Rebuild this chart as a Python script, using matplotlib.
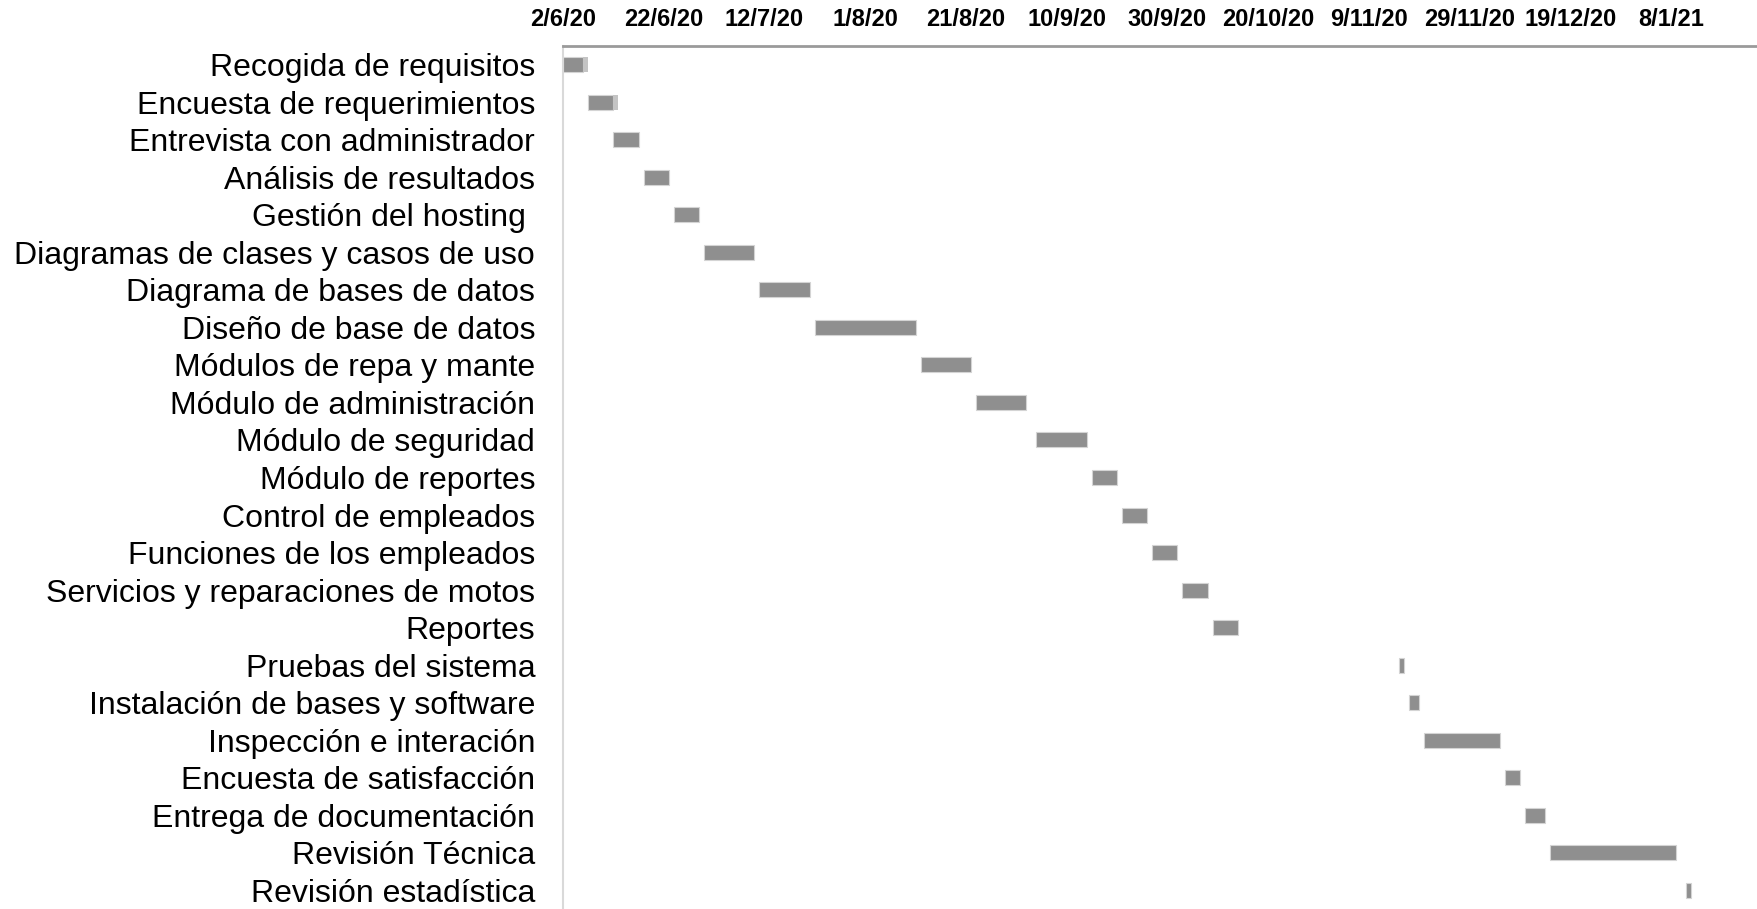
import matplotlib.pyplot as plt
import matplotlib.dates as mdates
import pandas as pd

# tareas del proyecto (de arriba hacia abajo)
tareas = ['Recogida de requisitos', 'Encuesta de requerimientos', 'Entrevista con administrador',
          'Análisis de resultados', 'Gestión del hosting ', 'Diagramas de clases y casos de uso',
          'Diagrama de bases de datos', 'Diseño de base de datos', 'Módulos de repa y mante',
          'Módulo de administración', 'Módulo de seguridad', 'Módulo de reportes',
          'Control de empleados', 'Funciones de los empleados', 'Servicios y reparaciones de motos',
          'Reportes', 'Pruebas del sistema', 'Instalación de bases y software',
          'Inspección e interación', 'Encuesta de satisfacción', 'Entrega de documentación',
          'Revisión Técnica', 'Revisión estadística']
inicio = ['2020-06-02', '2020-06-07', '2020-06-12', '2020-06-18', '2020-06-24', '2020-06-30',
          '2020-07-11', '2020-07-22', '2020-08-12', '2020-08-23', '2020-09-04', '2020-09-15',
          '2020-09-21', '2020-09-27', '2020-10-03', '2020-10-09', '2020-11-15', '2020-11-17',
          '2020-11-20', '2020-12-06', '2020-12-10', '2020-12-15', '2021-01-11']
duracion = [4, 5, 5, 5, 5, 10, 10, 20, 10, 10, 10, 5, 5, 5, 5, 5, 1, 2, 15, 3, 4, 25, 1]
# pequeño tramo claro al final de las dos primeras barras
extra = [0.9, 0.9, 0, 0, 0, 0, 0, 0, 0, 0, 0, 0, 0, 0, 0, 0, 0, 0, 0, 0, 0, 0, 0]

eje_inicio = '2020-06-02'
paso_dias = 20
n_ticks = 12

plt.rcParams['font.family'] = ['Liberation Sans', 'DejaVu Sans']

fig = plt.figure(figsize=(17.58, 9.09), dpi=100)
ax = fig.add_axes([563 / 1758, 0, (1758 - 563) / 1758, 863 / 909])

ini = mdates.date2num(pd.to_datetime(inicio))
y = list(range(len(tareas)))
ax.barh(y, duracion, left=ini, height=0.4, color='#8f8f8f', edgecolor='#d4d4d4', linewidth=0.8)
fin = [a + b for a, b in zip(ini, duracion)]
ax.barh(y, extra, left=fin, height=0.4, color='#c4c4c4', linewidth=0)

x0 = mdates.date2num(pd.Timestamp(eje_inicio))
ticks = pd.date_range(eje_inicio, periods=n_ticks, freq=f'{paso_dias}D')
ax.set_xticks(mdates.date2num(ticks))
ax.set_xticklabels([f'{t.day}/{t.month}/{t.year % 100}' for t in ticks], fontsize=17, fontweight='bold')
ax.set_xlim(x0, x0 + 237.3)
ax.xaxis.tick_top()
ax.tick_params(axis='x', length=0, pad=11)

ax.set_yticks(y)
ax.set_yticklabels(tareas, fontsize=23)
ax.set_ylim(len(tareas) - 0.5, -0.5)
ax.tick_params(axis='y', length=0, pad=20)

for s in ['right', 'bottom']:
    ax.spines[s].set_visible(False)
ax.spines['top'].set_color('#9a9a9a')
ax.spines['top'].set_linewidth(2)
ax.spines['left'].set_color('#d9d9d9')
ax.spines['left'].set_linewidth(1.5)

plt.savefig('out.png', dpi=100)
